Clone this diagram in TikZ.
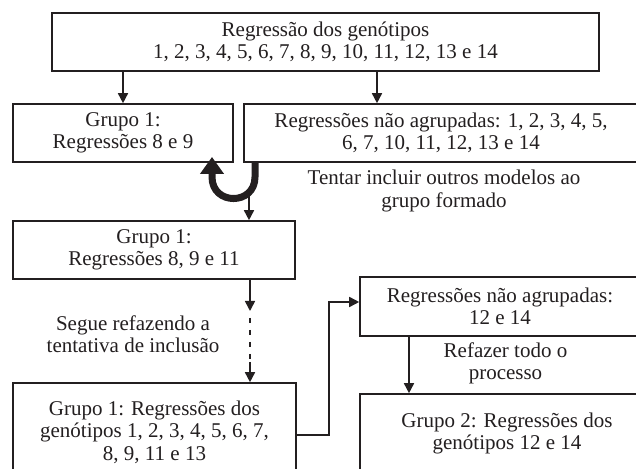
\documentclass[tikz,border=0pt]{standalone}
\usepackage{fontspec}
\setmainfont{Liberation Serif}
\usetikzlibrary{arrows.meta,calc}
\definecolor{ink}{HTML}{231F20}
\begin{document}
\begin{tikzpicture}[x=0.5pt,y=-0.5pt,
  every node/.style={font=\fontsize{10.5}{11.25}\selectfont, text=ink},
  box/.style={draw=ink, line width=0.8pt, rectangle, inner sep=0pt, align=center},
  lbl/.style={align=center, inner sep=0pt},
  arr/.style={draw=ink, line width=0.8pt, -{Triangle[length=5pt,width=5pt]}},
  thin/.style={draw=ink, line width=0.8pt},
  bigarr/.style={draw=ink, line width=3.5pt, -{Triangle[length=8.5pt,width=11.5pt]}}]
\useasboundingbox (0,0) rectangle (636,469);
\clip (0,0) rectangle (636,469);
\fill[white] (0,0) rectangle (636,469);
% boxes
\node[box, minimum width=273.5pt, minimum height=29pt] (T) at (325.5,42)
  {Regressão dos genótipos\\1, 2, 3, 4, 5, 6, 7, 8, 9, 10, 11, 12, 13 e 14};
\node[box, minimum width=110pt, minimum height=29pt] (A) at (123,133)
  {Grupo 1:\\Regressões 8 e 9};
\node[box, minimum width=197pt, minimum height=29pt] (B) at (441,133)
  {Regressões não agrupadas: 1, 2, 3, 4, 5,\\6, 7, 10, 11, 12, 13 e 14};
\node[box, minimum width=141pt, minimum height=29pt] (C) at (154,250)
  {Grupo 1:\\Regressões 8, 9 e 11};
\node[box, minimum width=141.5pt, minimum height=49pt] (D) at (154.5,432)
  {Grupo 1: Regressões dos\\genótipos 1, 2, 3, 4, 5, 6, 7,\\8, 9, 11 e 13};
\node[box, minimum width=140pt, minimum height=29.5pt] (E) at (500,306.5)
  {Regressões não agrupadas:\\12 e 14};
\node[box, minimum width=147pt, minimum height=39.5pt] (F) at (507,433.5)
  {Grupo 2: Regressões dos\\genótipos 12 e 14};
% labels
\node[lbl] (tentar) at (444,191) {Tentar incluir outros modelos ao\\grupo formado};
\node[lbl] (segue) at (133,334) {Segue refazendo a\\tentativa de inclusão};
\node[lbl] (refazer) at (505.5,363.5) {Refazer todo o\\processo};
% helper coordinates
\coordinate (xA) at (123,0);
\coordinate (xB) at (377,0);
\coordinate (uR) at (255,177);
\coordinate (uL) at (212,177);
\coordinate (uTip) at (212,157);
\coordinate (uB) at (249,195);
\coordinate (xC) at (250,0);
\coordinate (c1) at (250,311);
\coordinate (c2) at (250,318);
\coordinate (c3) at (250,362);
\coordinate (yD) at (0,435);
\coordinate (el) at (329,302);
\coordinate (xEF) at (409,0);
% connectors
\draw[arr] (T.south -| xA) -- (A.north -| xA);
\draw[arr] (T.south -| xB) -- (B.north -| xB);
\draw[bigarr] (B.south -| uR) -- (uR) .. controls +(0,28.7) and +(0,28.7) .. (uL) -- (uTip);
\draw[arr] (uB) -- (C.north -| uB);
\draw[arr] (C.south -| xC) -- (c1);
\draw[thin, dash pattern=on 2.5pt off 3.5pt] (c2) -- (c3);
\draw[arr] (c3) -- (D.north -| xC);
\draw[arr] (D.east |- yD) -| (el) -- (E.west |- el);
\draw[arr] (E.south -| xEF) -- (F.north -| xEF);
\end{tikzpicture}
\end{document}
